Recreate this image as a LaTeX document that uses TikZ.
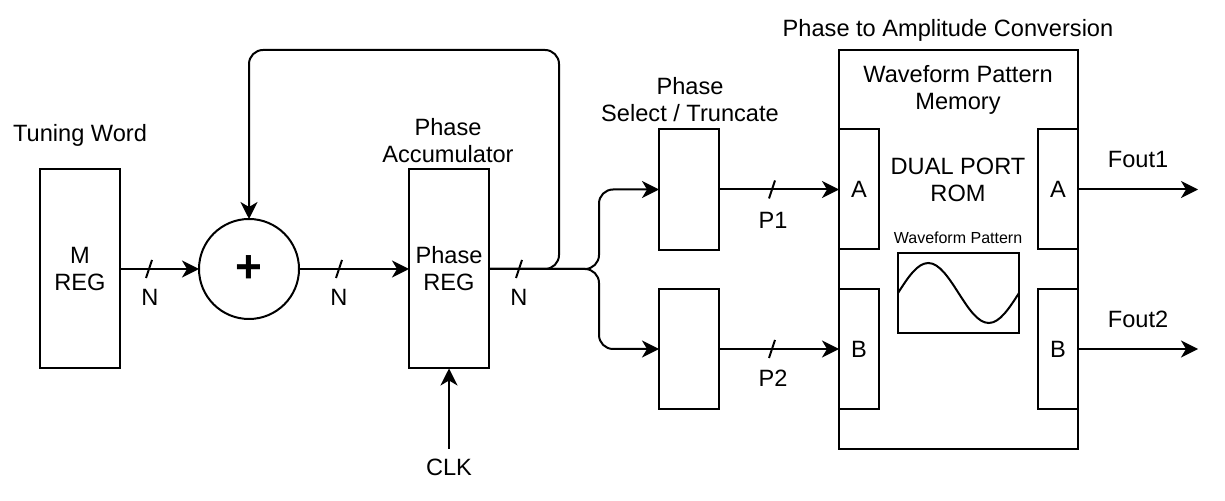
\documentclass[tikz,border=0pt]{standalone}
\usepackage{fontspec}
\setmainfont{Liberation Sans}
\usetikzlibrary{arrows.meta}
\begin{document}
\begin{tikzpicture}[x=0.5pt,y=-0.5pt,
  every node/.style={font=\fontsize{11.8}{13.5}\selectfont, align=center, inner sep=0pt, outer sep=0pt},
  blk/.style={draw, line width=1pt, rectangle},
  conn/.style={line width=1pt, -{Stealth[length=8.5pt,width=8.5pt,inset=2.5pt]}},
  wire/.style={line width=1pt},
  busmark/.pic={\draw[line width=1pt] (-3,9) -- (3,-9);},
]
\useasboundingbox (0,0) rectangle (1225,501);

% blocks
\node[blk, minimum width=40pt, minimum height=99.5pt] (mreg) at (80,269) {M\\REG};
\node[draw, circle, line width=1pt, minimum size=50pt] (sum) at (249,269) {\fontsize{23}{23}\selectfont\bfseries +};
\node[blk, minimum width=40pt, minimum height=99.5pt] (preg) at (449,269) {Phase\\REG};
\node[blk, minimum width=30pt, minimum height=60.5pt] (ps1) at (689,189.5) {};
\node[blk, minimum width=30pt, minimum height=60pt] (ps2) at (689,349) {};
\node[blk, minimum width=119.5pt, minimum height=199.5pt] (big) at (958.5,249.5) {};
\node[blk, minimum width=20pt, minimum height=60pt] (ina) at (859,189.5) {A};
\node[blk, minimum width=20pt, minimum height=60pt] (inb) at (859,349) {B};
\node[blk, minimum width=20pt, minimum height=60pt] (outa) at (1058,189.5) {A};
\node[blk, minimum width=20pt, minimum height=60pt] (outb) at (1058,349) {B};
\node[blk, minimum width=60.5pt, minimum height=40pt] (wave) at (958.5,293) {};
\draw[wire] (wave.west) sin ++(30.25,-30) cos ++(30.25,30) sin ++(30.25,30) cos ++(30.25,-30);

% labels
\node (tw) at (80,135) {Tuning Word};
\node (pacc) at (448,140.5) {Phase\\Accumulator};
\node (psel) at (690,100) {Phase\\Select / Truncate};
\node (pac) at (948,30) {Phase to Amplitude Conversion};
\node (wpm) at (958,90) {Waveform Pattern\\Memory};
\node (dpr) at (958,180) {DUAL PORT\\ROM};
\node (wpl) at (958,238) {\fontsize{8}{9}\selectfont Waveform Pattern};
\node (clk) at (449,467) {CLK};

% connectors
\draw[conn] (mreg.east) -- (sum.west);
\pic at (149,269) {busmark};
\node (n1) at (150,297) {N};
\draw[conn] (sum.east) -- (preg.west);
\pic at (339,269) {busmark};
\node (n2) at (339,297) {N};
\coordinate (fbr) at (559,50);
\draw[conn, rounded corners=7pt] (preg.east) -- (preg.east -| fbr) -- (fbr) -- (fbr -| sum.north) -- (sum.north);
\pic at (519,269) {busmark};
\node (n3) at (519,297) {N};
\coordinate (spl) at (599,269);
\draw[conn, rounded corners=7pt] (preg.east) -- (spl) -- (spl |- ps1.west) -- (ps1.west);
\draw[conn, rounded corners=7pt] (preg.east) -- (spl) -- (spl |- ps2.west) -- (ps2.west);
\draw[conn] (ps1.east) -- (ina.west);
\pic at (772,189.5) {busmark};
\node (p1) at (773,220) {P1};
\draw[conn] (ps2.east) -- (inb.west);
\pic at (772,349) {busmark};
\node (p2) at (773,378) {P2};
\coordinate (fo1) at (1198,189.5);
\coordinate (fo2) at (1198,349);
\draw[conn] (outa.east) -- (fo1);
\draw[conn] (outb.east) -- (fo2);
\node (f1) at (1138,160) {Fout1};
\node (f2) at (1138,319) {Fout2};
\draw[conn] ([yshift=5pt]clk.north) -- (preg.south);
\end{tikzpicture}
\end{document}
